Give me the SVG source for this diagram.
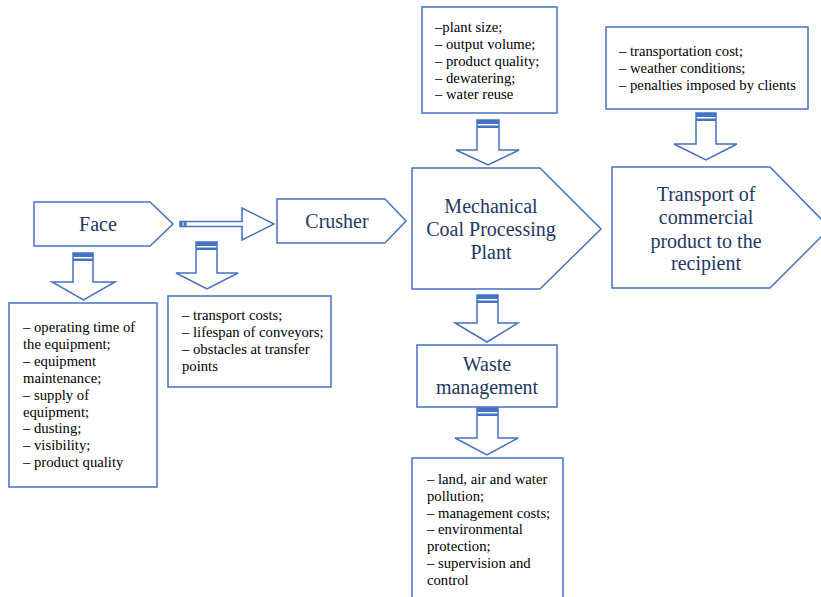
<svg xmlns="http://www.w3.org/2000/svg" width="821" height="597" viewBox="0 0 821 597">
<style>
.sh{fill:#fff;stroke:#4472C4;stroke-width:1.5}
.ar{fill:#fff;stroke:#4472C4;stroke-width:1.5;stroke-linejoin:miter}
.st{fill:#4472C4}
.big{font-family:"Liberation Serif","Times New Roman","DejaVu Serif",serif;font-size:20px;fill:#1F3864;text-anchor:middle}
.sm{font-family:"Liberation Serif","Times New Roman","DejaVu Serif",serif;font-size:14.7px;fill:#000}
</style>
<rect width="821" height="597" fill="#fff"/>
<g id="connectors">
  <g id="arrow-face-crusher">
    <polygon class="ar" points="180,221.5 242,221.5 242,208 274,224 242,240 242,226.5 180,226.5"/>
    <rect class="st" x="180" y="221.5" width="2.5" height="5"/>
    <rect class="st" x="183.5" y="221.5" width="3" height="5"/>
  </g>
  <g id="arrow-face-down">
    <polygon class="ar" points="73,253 93,253 93,282 115,282 83.5,300 52,282 73,282"/>
    <rect class="st" x="73" y="253" width="20" height="4"/>
    <rect class="st" x="73" y="258.5" width="20" height="2.5"/>
  </g>
  <g id="arrow-crusher-down">
    <polygon class="ar" points="196,242 217,242 217,273 238,273 207,289 176,273 196,273"/>
    <rect class="st" x="196" y="242" width="21" height="4"/>
    <rect class="st" x="196" y="247.5" width="21" height="2.5"/>
  </g>
  <g id="arrow-top-mech">
    <polygon class="ar" points="477,120 499,120 499,150 519,150 488,165 456,150 477,150"/>
    <rect class="st" x="477" y="120" width="22" height="4"/>
    <rect class="st" x="477" y="125.5" width="22" height="2.5"/>
  </g>
  <g id="arrow-top-transport">
    <polygon class="ar" points="696,113 716,113 716,144 737,144 706,160 674,144 696,144"/>
    <rect class="st" x="696" y="113" width="20" height="4"/>
    <rect class="st" x="696" y="118.5" width="20" height="2.5"/>
  </g>
  <g id="arrow-mech-waste">
    <polygon class="ar" points="477,295 498,295 498,323 518,323 487,342 455,323 477,323"/>
    <rect class="st" x="477" y="295" width="21" height="4"/>
    <rect class="st" x="477" y="300.5" width="21" height="2.5"/>
  </g>
  <g id="arrow-waste-list">
    <polygon class="ar" points="477,408 498,408 498,438 518,438 487,455 455,438 477,438"/>
    <rect class="st" x="477" y="408" width="21" height="4"/>
    <rect class="st" x="477" y="413.5" width="21" height="2.5"/>
  </g>
</g>
<g id="face">
  <polygon class="sh" points="34,202 150,202 173,224 150,246 34,246"/>
  <text class="big" x="98" y="231">Face</text>
</g>
<g id="crusher">
  <polygon class="sh" points="277,199 385,199 406,221 385,243 277,243"/>
  <text class="big" x="337" y="228">Crusher</text>
</g>
<g id="mech">
  <polygon class="sh" points="412,168 540,168 601,229 540,289 412,289"/>
  <text class="big" x="491" y="213">Mechanical</text>
  <text class="big" x="491" y="236">Coal Processing</text>
  <text class="big" x="491" y="259">Plant</text>
</g>
<g id="transport">
  <polygon class="sh" points="612,167 770,167 830,228 770,288 612,288"/>
  <text class="big" x="706" y="201">Transport of</text>
  <text class="big" x="706" y="224">commercial</text>
  <text class="big" x="706" y="248">product to the</text>
  <text class="big" x="706" y="270">recipient</text>
</g>
<g id="waste">
  <rect class="sh" x="417" y="345" width="140" height="62"/>
  <text class="big" x="487" y="371">Waste</text>
  <text class="big" x="487" y="394">management</text>
</g>
<g id="face-list">
  <rect class="sh" x="9" y="303" width="148" height="184"/>
  <text class="sm" x="23" y="332">– operating time of</text>
  <text class="sm" x="23" y="349">the equipment;</text>
  <text class="sm" x="23" y="366">– equipment</text>
  <text class="sm" x="23" y="383">maintenance;</text>
  <text class="sm" x="23" y="400">– supply of</text>
  <text class="sm" x="23" y="417">equipment;</text>
  <text class="sm" x="23" y="433">– dusting;</text>
  <text class="sm" x="23" y="450">– visibility;</text>
  <text class="sm" x="23" y="467">– product quality</text>
</g>
<g id="crusher-list">
  <rect class="sh" x="168" y="296" width="163" height="91"/>
  <text class="sm" x="182" y="320">– transport costs;</text>
  <text class="sm" x="182" y="337">– lifespan of conveyors;</text>
  <text class="sm" x="182" y="354">– obstacles at transfer</text>
  <text class="sm" x="182" y="371">points</text>
</g>
<g id="mech-list">
  <rect class="sh" x="422" y="7" width="135" height="106"/>
  <text class="sm" x="435" y="32">–plant size;</text>
  <text class="sm" x="435" y="49">– output volume;</text>
  <text class="sm" x="435" y="66">– product quality;</text>
  <text class="sm" x="435" y="83">– dewatering;</text>
  <text class="sm" x="435" y="99">– water reuse</text>
</g>
<g id="transport-list">
  <rect class="sh" x="606" y="27" width="202" height="82"/>
  <text class="sm" x="619" y="56">– transportation cost;</text>
  <text class="sm" x="619" y="73">– weather conditions;</text>
  <text class="sm" x="619" y="90">– penalties imposed by clients</text>
</g>
<g id="waste-list">
  <rect class="sh" x="412" y="458" width="151" height="150"/>
  <text class="sm" x="427" y="484">– land, air and water</text>
  <text class="sm" x="427" y="501">pollution;</text>
  <text class="sm" x="427" y="518">– management costs;</text>
  <text class="sm" x="427" y="534">– environmental</text>
  <text class="sm" x="427" y="551">protection;</text>
  <text class="sm" x="427" y="568">– supervision and</text>
  <text class="sm" x="427" y="585">control</text>
</g>
</svg>
